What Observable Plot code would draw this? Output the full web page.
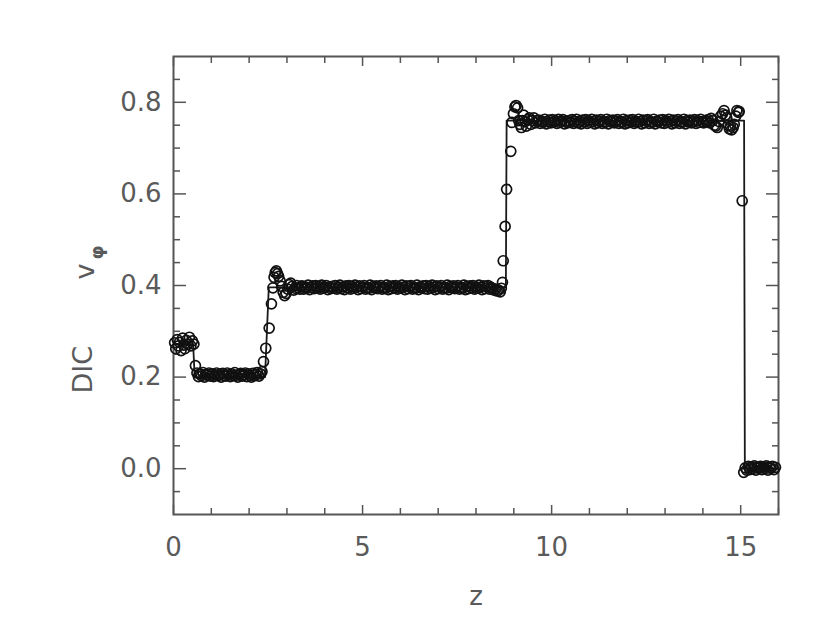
<!DOCTYPE html>
<html>
<head>
<meta charset="utf-8">
<script src="https://cdn.jsdelivr.net/npm/d3@7"></script>
<script src="https://cdn.jsdelivr.net/npm/@observablehq/plot@0.6"></script>
<style>
  html, body { margin: 0; padding: 0; background: #fff; }
  #chart { width: 830px; height: 624px; }
</style>
</head>
<body>
<div id="chart"></div>
<script>
// ---- Data ----
const xMajorTicks = [0, 5, 10, 15];
const xMinorTicks = [1, 2, 3, 4, 6, 7, 8, 9, 11, 12, 13, 14, 16];
const yMajorTicks = [0.0, 0.2, 0.4, 0.6, 0.8];
const yMinorTicks = [-0.05, 0.05, 0.1, 0.15, 0.25, 0.3, 0.35, 0.45, 0.5, 0.55, 0.65, 0.7, 0.75, 0.85];

// solid line (reference solution): [z, v]
const solution = [[0, 0.272], [0.52, 0.272], [0.56, 0.200], [2.42, 0.200], [2.52, 0.396],
  [8.79, 0.396], [8.81, 0.760], [15.09, 0.760], [15.11, 0.0], [16, 0.0]];

// circles (simulation), [z, v]
const leftCluster = [[0.03, .275], [0.06, .262], [0.10, .282], [0.13, .268], [0.16, .276], [0.20, .258],
  [0.24, .285], [0.27, .270], [0.30, .262], [0.34, .280], [0.38, .272], [0.42, .287], [0.46, .268],
  [0.50, .279], [0.54, .272], [0.58, .225]];

const plateauLow = [[0.62, .209], [0.66, .201], [0.70, .207], [0.74, .203], [0.78, .210], [0.82, .200],
  [0.86, .206], [0.90, .204], [0.94, .209], [0.98, .202], [1.02, .207], [1.06, .201], [1.10, .205],
  [1.14, .209], [1.18, .203], [1.22, .206], [1.26, .200], [1.30, .208], [1.34, .204], [1.38, .202],
  [1.42, .209], [1.46, .205], [1.50, .201], [1.54, .207], [1.58, .203], [1.62, .210], [1.66, .204],
  [1.70, .200], [1.74, .206], [1.78, .208], [1.82, .202], [1.86, .205], [1.90, .209], [1.94, .201],
  [1.98, .207], [2.02, .204], [2.06, .200], [2.10, .208], [2.14, .203], [2.18, .206], [2.22, .210],
  [2.26, .202], [2.30, .207]];

const riseOne = [[2.34, .212], [2.38, .234], [2.44, .263], [2.53, .307], [2.59, .360], [2.63, .395],
  [2.66, .418], [2.69, .428], [2.72, .432], [2.75, .426], [2.78, .420], [2.82, .410], [2.86, .398],
  [2.90, .385], [2.94, .378], [2.98, .383], [3.02, .392], [3.06, .402], [3.10, .405], [3.14, .398],
  [3.18, .390], [3.22, .394], [3.26, .400], [3.30, .395], [3.34, .392], [3.37, .398]];

const plateauMid = [[3.40, .399], [3.44, .392], [3.48, .397], [3.52, .394], [3.56, .401], [3.60, .391],
  [3.64, .396], [3.68, .399], [3.72, .393], [3.76, .400], [3.80, .395], [3.84, .398], [3.88, .392],
  [3.92, .401], [3.96, .394], [4.00, .396], [4.04, .400], [4.08, .391], [4.12, .397], [4.16, .393],
  [4.20, .398], [4.24, .394], [4.28, .400], [4.32, .392], [4.36, .396], [4.40, .401], [4.44, .393],
  [4.48, .397], [4.52, .391], [4.56, .399], [4.60, .395], [4.64, .400], [4.68, .392], [4.72, .398],
  [4.76, .394], [4.80, .401], [4.84, .396], [4.88, .391], [4.92, .399], [4.96, .393], [5.00, .397],
  [5.04, .400], [5.08, .392], [5.12, .396], [5.16, .394], [5.20, .401], [5.24, .391], [5.28, .398],
  [5.32, .395], [5.36, .399], [5.40, .393], [5.44, .397], [5.48, .400], [5.52, .392], [5.56, .396],
  [5.60, .394], [5.64, .401], [5.68, .391], [5.72, .398], [5.76, .393], [5.80, .399], [5.84, .395],
  [5.88, .400], [5.92, .392], [5.96, .397], [6.00, .394], [6.04, .401], [6.08, .396], [6.12, .391],
  [6.16, .399], [6.20, .393], [6.24, .398], [6.28, .400], [6.32, .392], [6.36, .396], [6.40, .394],
  [6.44, .401], [6.48, .391], [6.52, .397], [6.56, .395], [6.60, .399], [6.64, .393], [6.68, .400],
  [6.72, .392], [6.76, .398], [6.80, .394], [6.84, .401], [6.88, .396], [6.92, .391], [6.96, .399],
  [7.00, .393], [7.04, .397], [7.08, .400], [7.12, .392], [7.16, .396], [7.20, .394], [7.24, .401],
  [7.28, .391], [7.32, .398], [7.36, .395], [7.40, .399], [7.44, .393], [7.48, .397], [7.52, .400],
  [7.56, .392], [7.60, .396], [7.64, .394], [7.68, .401], [7.72, .391], [7.76, .398], [7.80, .393],
  [7.84, .399], [7.88, .395], [7.92, .400], [7.96, .392], [8.00, .397], [8.04, .394], [8.08, .401],
  [8.12, .396], [8.16, .391], [8.20, .399], [8.24, .393], [8.28, .398], [8.32, .400], [8.36, .392],
  [8.40, .396], [8.44, .393], [8.48, .390], [8.52, .392], [8.56, .388], [8.60, .390]];

const riseTwo = [[8.64, .386], [8.67, .394], [8.70, .407], [8.72, .454], [8.77, .529], [8.81, .610],
  [8.92, .693], [8.95, .756], [8.99, .775], [9.03, .790], [9.06, .793], [9.10, .788], [9.13, .760],
  [9.16, .752], [9.20, .745], [9.23, .760], [9.26, .772], [9.30, .758], [9.33, .748], [9.37, .762],
  [9.41, .766], [9.45, .752], [9.49, .760], [9.53, .766], [9.57, .755], [9.61, .760]];

const plateauHigh = [[9.66, .761], [9.70, .754], [9.74, .759], [9.78, .756], [9.82, .763], [9.86, .753],
  [9.90, .758], [9.94, .761], [9.98, .755], [10.02, .762], [10.06, .757], [10.10, .760], [10.14, .754],
  [10.18, .763], [10.22, .756], [10.26, .758], [10.30, .762], [10.34, .753], [10.38, .759], [10.42, .755],
  [10.46, .760], [10.50, .756], [10.54, .762], [10.58, .754], [10.62, .758], [10.66, .763], [10.70, .755],
  [10.74, .759], [10.78, .753], [10.82, .761], [10.86, .757], [10.90, .762], [10.94, .754], [10.98, .760],
  [11.02, .756], [11.06, .763], [11.10, .758], [11.14, .753], [11.18, .761], [11.22, .755], [11.26, .759],
  [11.30, .762], [11.34, .754], [11.38, .758], [11.42, .756], [11.46, .763], [11.50, .753], [11.54, .760],
  [11.58, .757], [11.62, .761], [11.66, .755], [11.70, .759], [11.74, .762], [11.78, .754], [11.82, .758],
  [11.86, .756], [11.90, .763], [11.94, .753], [11.98, .760], [12.02, .755], [12.06, .761], [12.10, .757],
  [12.14, .762], [12.18, .754], [12.22, .759], [12.26, .756], [12.30, .763], [12.34, .758], [12.38, .753],
  [12.42, .761], [12.46, .755], [12.50, .760], [12.54, .762], [12.58, .754], [12.62, .758], [12.66, .756],
  [12.70, .763], [12.74, .753], [12.78, .759], [12.82, .757], [12.86, .761], [12.90, .755], [12.94, .762],
  [12.98, .754], [13.02, .760], [13.06, .756], [13.10, .763], [13.14, .758], [13.18, .753], [13.22, .761],
  [13.26, .755], [13.30, .759], [13.34, .762], [13.38, .754], [13.42, .758], [13.46, .756], [13.50, .763],
  [13.54, .753], [13.58, .760], [13.62, .757], [13.66, .761], [13.70, .755], [13.74, .759], [13.78, .762],
  [13.82, .754], [13.86, .760], [13.90, .756], [13.94, .763], [13.98, .758], [14.02, .755], [14.06, .760]];

const dropEnd = [[14.10, .758], [14.14, .762], [14.18, .755], [14.22, .765], [14.26, .760], [14.30, .750],
  [14.34, .748], [14.38, .745], [14.43, .758], [14.47, .770], [14.52, .775], [14.56, .782], [14.60, .772],
  [14.63, .766], [14.67, .750], [14.70, .742], [14.73, .748], [14.76, .740], [14.80, .745], [14.83, .752],
  [14.87, .770], [14.90, .782], [14.94, .778], [14.96, .780], [15.04, .585]];

const plateauZero = [[15.08, -.008], [15.12, .002], [15.16, -.003], [15.20, .005], [15.24, -.002],
  [15.28, .004], [15.32, .000], [15.36, .006], [15.40, -.003], [15.44, .003], [15.48, .001], [15.52, .005],
  [15.56, -.002], [15.60, .004], [15.64, .000], [15.68, .006], [15.72, -.003], [15.76, .003], [15.80, .001],
  [15.84, .005], [15.88, -.002], [15.92, .003]];

const points = [...leftCluster, ...plateauLow, ...riseOne, ...plateauMid, ...riseTwo,
  ...plateauHigh, ...dropEnd, ...plateauZero];

const xLabel = "z";
const yLabelMain = "DIC";
const yLabelV = "v";
const yLabelSub = "φ";

// ---- Styling ----
const axisGray = "#555";
const textGray = "#5a5a5a";
const font = "DejaVu Sans, sans-serif";

const chart = Plot.plot({
  width: 830,
  height: 624,
  marginLeft: 173,
  marginRight: 52,
  marginTop: 56,
  marginBottom: 110,
  x: {domain: [0, 16], axis: null},
  y: {domain: [-0.1, 0.9], axis: null},
  style: {fontFamily: font, fontSize: "26px", color: textGray, background: "#fff"},
  marks: [
    // ticks (inward) on all four sides
    Plot.axisX(xMinorTicks, {anchor: "bottom", tickSize: -6, fill: "none", label: null, stroke: axisGray, strokeWidth: 1.5}),
    Plot.axisX(xMinorTicks, {anchor: "top", tickSize: -6, fill: "none", label: null, stroke: axisGray, strokeWidth: 1.5}),
    Plot.axisX(xMajorTicks, {anchor: "bottom", tickSize: -9, fill: "none", label: null, stroke: axisGray, strokeWidth: 1.5}),
    Plot.axisX(xMajorTicks, {anchor: "top", tickSize: -9, fill: "none", label: null, stroke: axisGray, strokeWidth: 1.5}),
    Plot.axisY(yMinorTicks, {anchor: "left", tickSize: -7, fill: "none", label: null, stroke: axisGray, strokeWidth: 1.5}),
    Plot.axisY(yMinorTicks, {anchor: "right", tickSize: -7, fill: "none", label: null, stroke: axisGray, strokeWidth: 1.5}),
    Plot.axisY(yMajorTicks, {anchor: "left", tickSize: -13, fill: "none", label: null, stroke: axisGray, strokeWidth: 1.5}),
    Plot.axisY(yMajorTicks, {anchor: "right", tickSize: -13, fill: "none", label: null, stroke: axisGray, strokeWidth: 1.5}),
    // tick labels
    Plot.axisX(xMajorTicks, {anchor: "bottom", tickSize: 0, tickPadding: 23, label: null, tickFormat: d => String(d), fill: textGray, fontSize: 26}),
    Plot.axisY(yMajorTicks, {anchor: "left", tickSize: 0, tickPadding: 12, label: null, tickFormat: d3.format(".1f"), fill: textGray, fontSize: 26}),
    // frame
    Plot.frame({stroke: axisGray, strokeWidth: 2}),
    // data
    Plot.line(solution, {x: d => d[0], y: d => d[1], stroke: "#1a1a1a", strokeWidth: 1.8}),
    Plot.dot(points, {x: d => d[0], y: d => d[1], r: 5, stroke: "#111", strokeWidth: 1.7, fill: "none"}),
    // axis titles
    Plot.text([xLabel], {frameAnchor: "bottom", dy: 90, fill: textGray, fontSize: 26}),
    Plot.text([yLabelMain], {frameAnchor: "left", rotate: -90, textAnchor: "start", dx: -90, dy: 108, fill: textGray, fontSize: 27}),
    Plot.text([yLabelV], {frameAnchor: "left", rotate: -90, textAnchor: "middle", dx: -88, dy: -14, fill: textGray, fontSize: 27}),
    Plot.text([yLabelSub], {frameAnchor: "left", rotate: -90, textAnchor: "middle", dx: -76, dy: -33, fill: textGray, fontSize: 18, fontWeight: "bold"})
  ]
});

document.getElementById("chart").appendChild(chart);
</script>
</body>
</html>
